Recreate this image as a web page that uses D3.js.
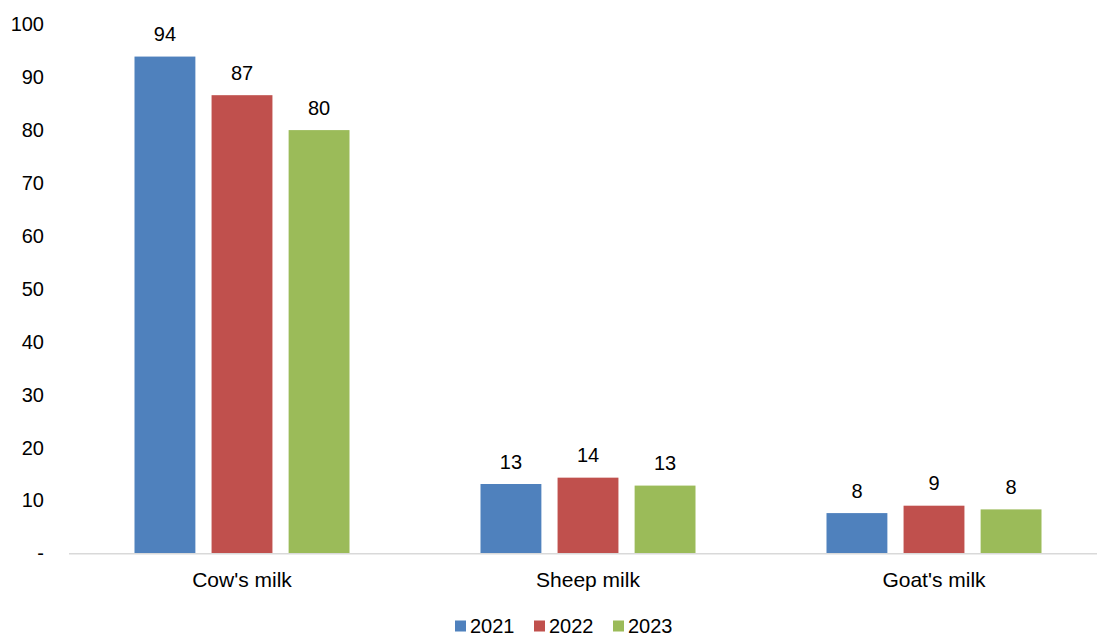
<!DOCTYPE html>
<html>
<head>
<meta charset="utf-8">
<script src="https://cdn.jsdelivr.net/npm/d3@7"></script>
<style>
  html, body { margin: 0; padding: 0; background: #fff; }
  svg { display: block; font-family: "Liberation Sans", Arial, sans-serif; }
</style>
</head>
<body>
<svg id="chart" width="1097" height="637"></svg>
<script>
const categories = ["Cow's milk", "Sheep milk", "Goat's milk"];
const years = ["2021", "2022", "2023"];
const values2021 = [93.9, 13.1, 7.6];
const values2022 = [86.6, 14.3, 9.0];
const values2023 = [80.0, 12.8, 8.3];
const yTicks = [0, 10, 20, 30, 40, 50, 60, 70, 80, 90, 100];
const colors = ["#4F81BD", "#C0504D", "#9BBB59"];

const series = [values2021, values2022, values2023];

const svg = d3.select("#chart");
const W = 1097, H = 637;

const y = d3.scaleLinear().domain([0, 100]).range([553.3, 24.3]);
const x0 = d3.scaleBand().domain(categories).range([69, 1107]).padding(0);
const x1 = d3.scaleBand().domain(years).range([-107.5, 107.5]).paddingInner(0.21).paddingOuter(0);

// Y tick labels
svg.append("g").selectAll("text")
  .data(yTicks).join("text")
  .attr("x", 44)
  .attr("y", d => y(d))
  .attr("dy", "0.35em")
  .attr("text-anchor", "end")
  .attr("font-size", 20)
  .attr("fill", "#000")
  .text(d => d === 0 ? "-" : d);

// Bars
const groups = svg.append("g").selectAll("g")
  .data(categories).join("g")
  .attr("transform", d => `translate(${x0(d) + x0.bandwidth() / 2},0)`);

groups.each(function(cat, ci) {
  const g = d3.select(this);
  years.forEach((yr, si) => {
    const v = series[si][ci];
    g.append("rect")
      .attr("x", x1(yr))
      .attr("y", y(v))
      .attr("width", x1.bandwidth())
      .attr("height", y(0) - y(v))
      .attr("fill", colors[si]);
    g.append("text")
      .attr("x", x1(yr) + x1.bandwidth() / 2)
      .attr("y", y(v) - 15.5)
      .attr("text-anchor", "middle")
      .attr("font-size", 20)
      .attr("fill", "#000")
      .text(d3.format(".0f")(v));
  });
});

// Baseline axis
svg.append("line")
  .attr("x1", 69).attr("x2", W)
  .attr("y1", y(0) + 0.5).attr("y2", y(0) + 0.5)
  .attr("stroke", "#D9D9D9").attr("stroke-width", 1.5);

// Category labels
svg.append("g").selectAll("text")
  .data(categories).join("text")
  .attr("x", d => x0(d) + x0.bandwidth() / 2)
  .attr("y", 586.5)
  .attr("text-anchor", "middle")
  .attr("font-size", 21)
  .attr("fill", "#000")
  .text(d => d);

// Legend
const legendX = [455, 534, 613];
const legend = svg.append("g").selectAll("g")
  .data(years).join("g")
  .attr("transform", (d, i) => `translate(${legendX[i]},0)`);
legend.append("rect")
  .attr("x", 0).attr("y", 620.5)
  .attr("width", 11).attr("height", 11)
  .attr("fill", (d, i) => colors[i]);
legend.append("text")
  .attr("x", 15).attr("y", 632.5)
  .attr("font-size", 20)
  .attr("fill", "#000")
  .text(d => d);
</script>
</body>
</html>
